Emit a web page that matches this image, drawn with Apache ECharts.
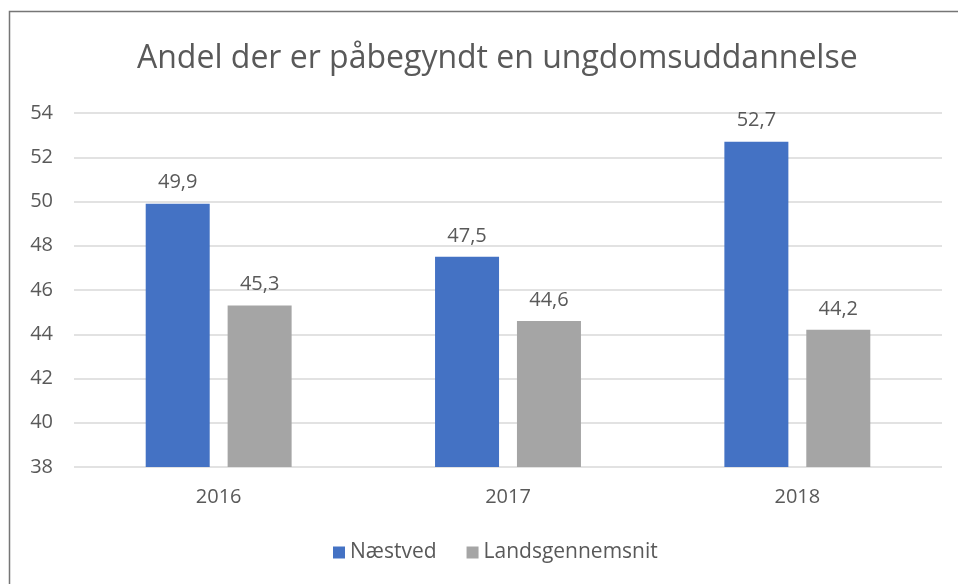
<!DOCTYPE html>
<html>
<head>
<meta charset="utf-8">
<script src="https://cdn.jsdelivr.net/npm/echarts@6/dist/echarts.min.js"></script>
<style>
  html, body { margin: 0; padding: 0; background: #fff; }
  #chart { width: 958px; height: 584px; }
</style>
</head>
<body>
<div id="chart"></div>
<script>
// data
const years = ['2016', '2017', '2018']
const naestved = [49.9, 47.5, 52.7]
const landsgennemsnit = [45.3, 44.6, 44.2]
const yTicks = { min: 38, max: 54, step: 2 }

const textColor = '#595959'
const fontFamily = '"Open Sans", Calibri, sans-serif'
const fmt = v => String(v.value).replace('.', ',')

const chart = echarts.init(document.getElementById('chart'))
chart.setOption({
  animation: false,
  textStyle: { fontFamily: fontFamily },
  graphic: [{
    type: 'rect',
    shape: { x: 9.5, y: 11.5, width: 1200, height: 1200 },
    style: { fill: 'none', stroke: '#767676', lineWidth: 1.5 },
    silent: true
  }],
  title: {
    text: 'Andel der er påbegyndt en ungdomsuddannelse',
    left: 132,
    top: 38,
    textStyle: { fontSize: 32, fontWeight: 'normal', color: textColor, fontFamily: fontFamily }
  },
  legend: {
    bottom: 16,
    left: 328,
    itemWidth: 12,
    itemHeight: 12,
    itemGap: 30,
    icon: 'rect',
    textStyle: { fontSize: 21, color: textColor, fontFamily: fontFamily }
  },
  grid: { left: 74, right: 16, top: 113, bottom: 117 },
  xAxis: {
    type: 'category',
    data: years,
    axisTick: { show: false },
    axisLine: { show: false },
    axisLabel: { fontSize: 20, color: textColor, margin: 20 }
  },
  yAxis: {
    type: 'value',
    min: yTicks.min,
    max: yTicks.max,
    interval: yTicks.step,
    axisLine: { show: false },
    axisTick: { show: false },
    axisLabel: { fontSize: 20, color: textColor, margin: 21 },
    splitLine: { lineStyle: { color: '#d9d9d9', width: 1.5 } }
  },
  series: [{
    name: 'Næstved',
    type: 'bar',
    data: naestved,
    barWidth: 64,
    barGap: '28%',
    itemStyle: { color: '#4472c4' },
    label: { show: true, position: 'top', distance: 11, fontSize: 20, color: textColor, formatter: fmt }
  }, {
    name: 'Landsgennemsnit',
    type: 'bar',
    data: landsgennemsnit,
    barWidth: 64,
    itemStyle: { color: '#a5a5a5' },
    label: { show: true, position: 'top', distance: 11, fontSize: 20, color: textColor, formatter: fmt }
  }]
})
</script>
</body>
</html>
